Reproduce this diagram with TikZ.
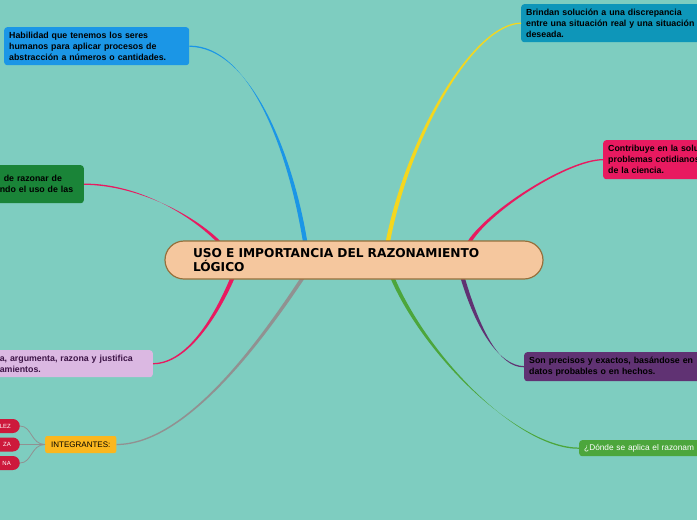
\documentclass[tikz,border=0pt]{standalone}
\usepackage{fontspec}
\setmainfont{Liberation Sans}
\newfontfamily\titlefont{DejaVu Sans}
\usetikzlibrary{positioning,calc}
\definecolor{bgteal}{RGB}{126,205,192}
\definecolor{cblue}{RGB}{27,150,230}
\definecolor{cdkgreen}{RGB}{26,132,56}
\definecolor{clilac}{RGB}{219,184,226}
\definecolor{corange}{RGB}{251,183,30}
\definecolor{cpill}{RGB}{205,25,60}
\definecolor{cteal}{RGB}{14,150,185}
\definecolor{cpink}{RGB}{232,26,96}
\definecolor{cpurple}{RGB}{96,50,115}
\definecolor{cgreen}{RGB}{76,166,60}
\definecolor{cyellow}{RGB}{245,215,30}
\definecolor{cgray}{RGB}{145,145,145}
\definecolor{cpeach}{RGB}{245,199,158}
\definecolor{cbrown}{RGB}{150,112,60}
\tikzset{
    leaf/.style={rounded corners=3pt,align=left,inner xsep=5pt,inner ysep=2pt,font=\bfseries\fontsize{8.8}{11}\selectfont,text=black},
    pill/.style={fill=cpill,rounded corners=7pt,anchor=east,text width=22pt,align=right,inner xsep=9pt,inner ysep=0pt,minimum height=14pt,text=white,font=\fontsize{6}{7}\selectfont},
    root/.style={fill=cpeach,draw=cbrown,line width=1.2pt,rounded corners=19pt,minimum height=38pt,text width=322pt,inner xsep=28pt,align=left,font=\titlefont\bfseries\fontsize{12.2}{14}\selectfont}
}
% tapered branch: colour, leaf end, leaf control, root control, root end
\newcommand{\mmbranch}[5]{%
    \fill[#1] ($(#2)+(0,-0.6)$) .. controls ($(#2)+(#3)+(0,-1)$) and ($(#5)+(#4)+(-2,0)$) .. ($(#5)+(-2.2,0)$)
        -- ($(#5)+(2.2,0)$) .. controls ($(#5)+(#4)+(2,0)$) and ($(#2)+(#3)+(0,1)$) .. ($(#2)+(0,0.6)$) -- cycle;}

\begin{document}
\begin{tikzpicture}[x=1pt,y=-1pt]
    \useasboundingbox (0,0) rectangle (697,520);
    \fill[bgteal] (0,0) rectangle (697,520);
    \clip (0,0) rectangle (697,520);
    % left side
    \node[leaf,fill=cblue,anchor=north west,text width=175pt,minimum height=38pt] (habil) at (4,27)
        {Habilidad que tenemos los seres\\humanos para aplicar procesos de\\abstracción a números o cantidades.};
    \node[leaf,fill=cdkgreen,anchor=north east,text width=79pt,minimum height=38pt] (razonar) at (84,165)
        {\hspace*{4pt}de razonar de\\ndo el uso de las\\ };
    \node[leaf,fill=clilac,anchor=north east,text width=148pt,minimum height=27pt,text={rgb,255:red,60;green,20;blue,70}] (argum) at (153,350)
        {a, argumenta, razona y justifica\\amientos.};
    \node[fill=corange,rounded corners=2pt,anchor=west,minimum height=17pt,inner xsep=6pt,font=\fontsize{8}{9}\selectfont] (integ) at (45,444.5) {INTEGRANTES:};
    \node[pill] (p1) at (20,426) {LEZ};
    \node[pill] (p2) at (20,444.5) {ZA};
    \node[pill] (p3) at (20,463) {NA};
    % right side
    \node[leaf,fill=cteal,anchor=north west,text width=200pt,minimum height=38pt] (brindan) at (521,4)
        {Brindan solución a una discrepancia\\entre una situación real y una situación\\deseada.};
    \node[leaf,fill=cpink,anchor=north west,text width=120pt,minimum height=39pt] (contrib) at (603,140)
        {Contribuye en la solu\\problemas cotidianos\\de la ciencia.};
    \node[leaf,fill=cpurple,anchor=north west,text width=200pt,minimum height=29pt] (precisos) at (524,352)
        {Son precisos y exactos, basándose en\\datos probables o en hechos.};
    \node[leaf,fill=cgreen,anchor=north west,text width=150pt,minimum height=16pt,text=white,font=\fontsize{8.3}{9}\selectfont] (donde) at (579,440)
        {¿Dónde se aplica el razonam};
    % connectors
    \coordinate (mid) at (354,260);
    \coordinate (top) at (354,241);
    \coordinate (bot) at (354,279);
    \mmbranch{cblue}{habil.east}{60,0}{-15,-91}{$(top)+(-49,0)$}
    \mmbranch{cpink}{razonar.east}{55,0}{-25,-25}{$(top)+(-136,0)$}
    \mmbranch{cpink}{argum.east}{35,0}{-15,35}{$(bot)+(-122,0)$}
    \mmbranch{cgray}{integ.east}{70,0}{-40,60}{$(bot)+(-52,0)$}
    \mmbranch{cyellow}{brindan.west}{-45,0}{22,-111}{$(top)+(34,0)$}
    \mmbranch{cpink}{contrib.west}{-35,0}{20,-31}{$(top)+(116,0)$}
    \mmbranch{cpurple}{precisos.west}{-25,0}{15,50}{$(bot)+(109,0)$}
    \mmbranch{cgreen}{donde.west}{-60,0}{35,80}{$(bot)+(39,0)$}
    \foreach \p in {p1,p2,p3}
        \draw[cgray,line width=0.8pt] (integ.west) .. controls +(-14,0) and +(12,0) .. (\p.east);
    % central topic
    \node[root] (root) at (mid) {USO E IMPORTANCIA DEL RAZONAMIENTO\\LÓGICO};
\end{tikzpicture}
\end{document}
